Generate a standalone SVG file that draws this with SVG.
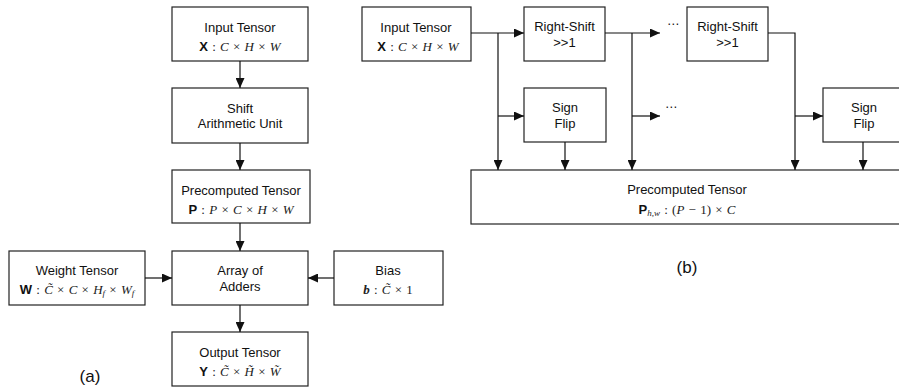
<svg xmlns="http://www.w3.org/2000/svg" width="899" height="387" viewBox="0 0 899 387">
<style>
.box{fill:#fff;stroke:#222;stroke-width:1.2}
.t{font-family:"Liberation Sans",Arial,sans-serif;font-size:13px;fill:#111;text-anchor:middle}
.m{font-family:"Liberation Serif","Times New Roman",serif;font-size:13px;fill:#222;text-anchor:middle;word-spacing:1px}
.i{font-style:italic}
.b{font-family:"Liberation Sans",Arial,sans-serif;font-weight:bold;font-style:normal;fill:#111}
.lab{font-family:"Liberation Sans",Arial,sans-serif;font-size:17px;fill:#111;text-anchor:middle}
.c line,.c polyline{stroke:#111;stroke-width:1.2;fill:none}
.dots{font-family:"DejaVu Sans",sans-serif;font-size:12px;fill:#111;text-anchor:middle}
</style>
<defs>
<marker id="ah" markerUnits="userSpaceOnUse" markerWidth="11" markerHeight="9" refX="10" refY="4.5" orient="auto">
<path d="M0,0 L10,4.5 L0,9 z" fill="#111"/>
</marker>
</defs>

<g id="a-input">
<rect class="box" x="172" y="7" width="136" height="54"/>
<text class="t" x="240" y="32">Input Tensor</text>
<text class="m" x="240" y="51"><tspan class="b">X</tspan> : <tspan class="i">C</tspan> × <tspan class="i">H</tspan> × <tspan class="i">W</tspan></text>
</g>
<g id="a-shift">
<rect class="box" x="172" y="88" width="136" height="55"/>
<text class="t" x="240" y="113">Shift</text>
<text class="t" x="240" y="128">Arithmetic Unit</text>
</g>
<g id="a-pre">
<rect class="box" x="172" y="170" width="138" height="53"/>
<text class="t" x="241" y="195">Precomputed Tensor</text>
<text class="m" x="241" y="214"><tspan class="b">P</tspan> : <tspan class="i">P</tspan> × <tspan class="i">C</tspan> × <tspan class="i">H</tspan> × <tspan class="i">W</tspan></text>
</g>
<g id="a-adders">
<rect class="box" x="172" y="251" width="136" height="54"/>
<text class="t" x="240" y="275">Array of</text>
<text class="t" x="240" y="291">Adders</text>
</g>
<g id="a-weight">
<rect class="box" x="9" y="251" width="136" height="54"/>
<text class="t" x="77" y="275">Weight Tensor</text>
<text class="m" x="77" y="294"><tspan class="b">W</tspan> : <tspan class="i">C̃</tspan> × <tspan class="i">C</tspan> × <tspan class="i">H<tspan font-size="9" dy="2">f</tspan></tspan><tspan dy="-2"> × </tspan><tspan class="i">W<tspan font-size="9" dy="2">f</tspan></tspan></text>
</g>
<g id="a-bias">
<rect class="box" x="334" y="251" width="109" height="54"/>
<text class="t" x="388" y="275">Bias</text>
<text class="m" x="388" y="294"><tspan class="i" font-weight="bold">b</tspan> : <tspan class="i">C̃</tspan> × 1</text>
</g>
<g id="a-output">
<rect class="box" x="172" y="332" width="136" height="54"/>
<text class="t" x="240" y="357">Output Tensor</text>
<text class="m" x="240" y="376"><tspan class="b">Y</tspan> : <tspan class="i">C̃</tspan> × <tspan class="i">H̃</tspan> × <tspan class="i">W̃</tspan></text>
</g>
<text id="label-a" class="lab" x="90" y="382">(a)</text>

<g id="b-input">
<rect class="box" x="362" y="7" width="109" height="54"/>
<text class="t" x="416" y="32">Input Tensor</text>
<text class="m" x="418" y="51"><tspan class="b">X</tspan> : <tspan class="i">C</tspan> × <tspan class="i">H</tspan> × <tspan class="i">W</tspan></text>
</g>
<g id="b-rs1">
<rect class="box" x="524" y="7" width="81" height="54"/>
<text class="t" x="564.5" y="31">Right-Shift</text>
<text class="t" x="564.5" y="47">&gt;&gt;1</text>
</g>
<g id="b-rs2">
<rect class="box" x="687" y="7" width="81" height="54"/>
<text class="t" x="727.5" y="31">Right-Shift</text>
<text class="t" x="727.5" y="47">&gt;&gt;1</text>
</g>
<g id="b-sf1">
<rect class="box" x="524" y="88" width="82" height="54"/>
<text class="t" x="565" y="112">Sign</text>
<text class="t" x="565" y="128">Flip</text>
</g>
<g id="b-sf2">
<rect class="box" x="823" y="88" width="82" height="54"/>
<text class="t" x="864" y="112">Sign</text>
<text class="t" x="864" y="128">Flip</text>
</g>
<g id="b-pre">
<rect class="box" x="471" y="170" width="432" height="54"/>
<text class="t" x="687" y="194">Precomputed Tensor</text>
<text class="m" x="687" y="214"><tspan class="b">P</tspan><tspan class="i" font-size="9" dy="2">h,w</tspan><tspan dy="-2"> : (</tspan><tspan class="i">P</tspan> − 1) × <tspan class="i">C</tspan></text>
</g>
<text id="label-b" class="lab" x="687" y="273">(b)</text>
<text class="dots" x="673" y="28">⋯</text>
<text class="dots" x="671" y="111">⋯</text>

<g id="connectors" class="c">
<line x1="240" y1="61" x2="240" y2="88" marker-end="url(#ah)"/>
<line x1="240" y1="143" x2="240" y2="170" marker-end="url(#ah)"/>
<line x1="240" y1="223" x2="240" y2="251" marker-end="url(#ah)"/>
<line x1="145" y1="278" x2="172" y2="278" marker-end="url(#ah)"/>
<line x1="334" y1="278" x2="308" y2="278" marker-end="url(#ah)"/>
<line x1="240" y1="305" x2="240" y2="332" marker-end="url(#ah)"/>

<line x1="471" y1="33" x2="524" y2="33" marker-end="url(#ah)"/>
<line x1="498" y1="33" x2="498" y2="170" marker-end="url(#ah)"/>
<line x1="498" y1="116" x2="524" y2="116" marker-end="url(#ah)"/>
<line x1="565" y1="142" x2="565" y2="170" marker-end="url(#ah)"/>
<line x1="605" y1="33" x2="660" y2="33" marker-end="url(#ah)"/>
<line x1="632" y1="33" x2="632" y2="170" marker-end="url(#ah)"/>
<line x1="632" y1="116" x2="660" y2="116" marker-end="url(#ah)"/>
<polyline points="768,33 795,33 795,170" marker-end="url(#ah)"/>
<line x1="795" y1="116" x2="823" y2="116" marker-end="url(#ah)"/>
<line x1="863" y1="142" x2="863" y2="170" marker-end="url(#ah)"/>
</g>
</svg>
